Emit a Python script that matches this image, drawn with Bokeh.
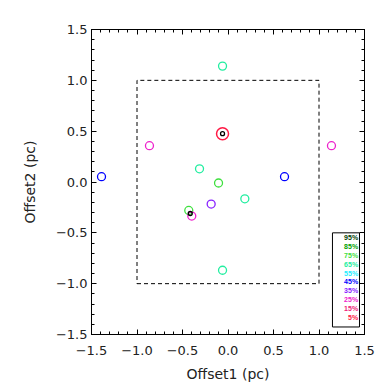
from bokeh.plotting import figure
from bokeh.models import Range1d, FixedTicker, LinearAxis, ColumnDataSource
from bokeh.core.properties import value
from bokeh.embed import file_html
from bokeh.resources import INLINE

# ---- data ----
pts_x = [-0.06, -0.313, 0.185, -0.06, -0.104, -0.431, -0.185, -0.863, 1.137, -0.398, -1.39, 0.621]
pts_y = [1.14, 0.13, -0.165, -0.868, -0.01, -0.28, -0.217, 0.357, 0.357, -0.335, 0.052, 0.052]
pts_level = ["65%", "65%", "65%", "65%", "75%", "75%", "35%", "25%", "25%", "25%", "45%", "45%"]

center_x = [-0.06]
center_y = [0.475]
black_x = [-0.06, -0.415]
black_y = [0.475, -0.31]

tick_values = [-1.5, -1.0, -0.5, 0.0, 0.5, 1.0, 1.5]
tick_labels = ["\u22121.5", "\u22121.0", "\u22120.5", "0.0", "0.5", "1.0", "1.5"]
minor_values = [round(-1.5 + 0.1 * i, 2) for i in range(31)]

legend_labels = ["95%", "85%", "75%", "65%", "55%", "45%", "35%", "25%", "15%", "5%"]
legend_colors = ["#003c00", "#00a000", "#3ee03e", "#22eea0", "#22eeff",
                 "#0000ff", "#8822ff", "#ee22cc", "#ee2277", "#ff1844"]
color_of = dict(zip(legend_labels, legend_colors))

box_x = [-1, 1, 1, -1, -1]
box_y = [-1, -1, 1, 1, -1]

FONT = "DejaVu Sans"

p = figure(width=384, height=384, output_backend="svg", toolbar_location=None,
           x_range=Range1d(-1.5, 1.5), y_range=Range1d(-1.5, 1.5),
           min_border_left=91, min_border_right=20, min_border_top=29, min_border_bottom=50)
p.grid.visible = False
p.outline_line_color = "black"
p.outline_line_width = 1
p.background_fill_color = "white"
p.border_fill_color = "white"

def style_axis(ax, labels=True):
    ax.ticker = FixedTicker(ticks=tick_values, minor_ticks=minor_values)
    ax.major_tick_in = 5
    ax.major_tick_out = 0
    ax.minor_tick_in = 3
    ax.minor_tick_out = 0
    ax.axis_line_color = "black"
    ax.major_tick_line_color = "black"
    ax.minor_tick_line_color = "black"
    ax.major_label_text_font = FONT
    ax.major_label_text_font_size = "13px"
    ax.major_label_text_color = "#222222"
    ax.axis_label_text_font = FONT
    ax.axis_label_text_font_size = "14px"
    ax.axis_label_text_font_style = "normal"
    ax.axis_label_text_color = "#222222"
    if labels:
        ax.major_label_overrides = dict(zip(tick_values, tick_labels))
    else:
        ax.major_label_overrides = {v: "" for v in tick_values}
        ax.major_label_standoff = 0

style_axis(p.xaxis[0])
style_axis(p.yaxis[0])
p.xaxis[0].axis_label = "Offset1 (pc)"
p.yaxis[0].axis_label = "Offset2 (pc)"
p.xaxis[0].major_label_standoff = 11
p.yaxis[0].major_label_standoff = 4
p.xaxis[0].axis_label_standoff = 8
p.yaxis[0].axis_label_standoff = 15

ax_r = LinearAxis()
style_axis(ax_r, labels=False)
p.add_layout(ax_r, "right")
ax_t = LinearAxis()
style_axis(ax_t, labels=False)
p.add_layout(ax_t, "above")

# dashed square
p.line(box_x, box_y, line_color="black", line_dash="4 3", line_width=1)

# points
src = ColumnDataSource(dict(x=pts_x, y=pts_y, c=[color_of[l] for l in pts_level]))
p.scatter("x", "y", source=src, size=8, fill_color=None, line_color="c", line_width=1.3)
p.scatter(center_x, center_y, size=12, fill_color=None, line_color=color_of["5%"], line_width=1.5)
p.scatter(black_x, black_y, size=4, fill_color=None, line_color="black", line_width=1.3)

# legend box
lx0, lx1 = 1.148, 1.445
ly0, ly1 = -1.426, -0.5
p.quad(left=[lx0], right=[lx1], bottom=[ly0], top=[ly1], fill_color="white",
       line_color="black", line_width=1)
step = 0.0869
ltop = -0.549
lsrc = ColumnDataSource(dict(
    x=[1.43] * len(legend_labels),
    y=[ltop - i * step for i in range(len(legend_labels))],
    t=legend_labels, c=legend_colors))
p.text("x", "y", text="t", source=lsrc, text_color="c", text_align="right",
       text_baseline="middle", text_font=value("Liberation Sans"),
       text_font_size="7px", text_font_style="bold")

open("out.html", "w").write(file_html(p, INLINE))
